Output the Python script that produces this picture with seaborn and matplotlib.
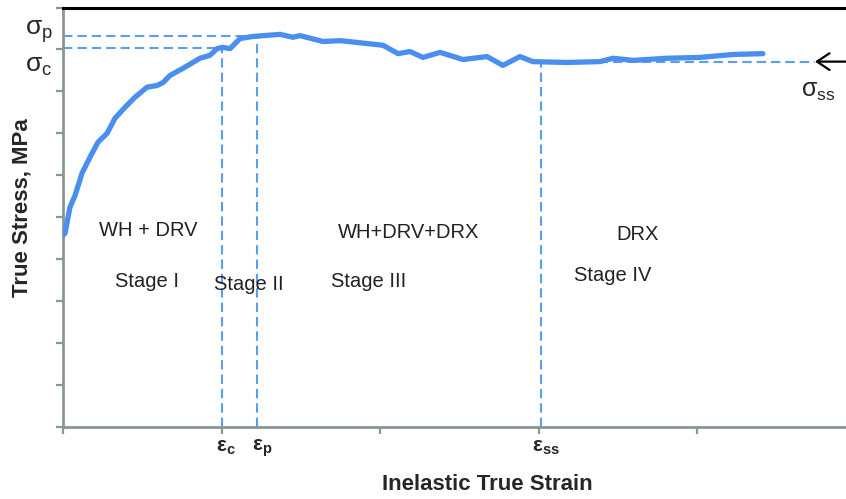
import matplotlib
matplotlib.use("Agg")
import matplotlib.pyplot as plt
import numpy as np
import pandas as pd
import seaborn as sns

# Flow curve (strain in tick units, stress in tick units)
strain = [0.0, 0.013, 0.044, 0.076, 0.120, 0.170, 0.221, 0.278, 0.328, 0.391,
          0.454, 0.530, 0.593, 0.631, 0.675, 0.757, 0.864, 0.927, 0.972, 1.009,
          1.054, 1.117, 1.199, 1.369, 1.451, 1.495, 1.640, 1.748, 2.019, 2.114,
          2.189, 2.271, 2.379, 2.524, 2.675, 2.776, 2.883, 2.965, 3.180, 3.388,
          3.470, 3.596, 3.811, 4.019, 4.227, 4.416]
stress = [4.57, 4.62, 5.24, 5.52, 6.05, 6.43, 6.79, 7.00, 7.36, 7.62,
          7.86, 8.10, 8.14, 8.21, 8.38, 8.55, 8.79, 8.86, 9.02, 9.05,
          9.02, 9.26, 9.31, 9.36, 9.29, 9.33, 9.19, 9.21, 9.10, 8.90,
          8.95, 8.81, 8.93, 8.76, 8.83, 8.62, 8.83, 8.71, 8.69, 8.71,
          8.79, 8.74, 8.79, 8.81, 8.88, 8.90]

# Characteristic points
eps_c, eps_p, eps_ss = 1.0, 1.224, 3.016
sig_c, sig_p, sig_ss = 9.03, 9.33, 8.71

stage_texts = ["WH + DRV", "Stage I", "Stage II", "Stage III",
               "WH+DRV+DRX", "DRX", "Stage IV"]
stage_x = [0.536, 0.533, 1.172, 1.93, 2.183, 3.628, 3.47]
stage_y = [4.69, 3.48, 3.40, 3.48, 4.64, 4.60, 3.62]

sns.set_style("white")
plt.rcParams["font.family"] = ["Liberation Sans", "DejaVu Sans"]
plt.rcParams["mathtext.fontset"] = "custom"
plt.rcParams["mathtext.rm"] = "Liberation Sans"
plt.rcParams["mathtext.it"] = "Liberation Sans"
plt.rcParams["mathtext.bf"] = "Liberation Sans:bold"

W, H = 846, 499
fig = plt.figure(figsize=(W / 100, H / 100), dpi=100)
x0, x1, yb, yt = 63, 846, 427, 7.5
ax = fig.add_axes([x0 / W, 1 - yb / H, (x1 - x0) / W, (yb - yt) / H])

ux = 158.5  # pixels per strain unit
ax.set_xlim(0, (x1 - x0) / ux)
ax.set_ylim(0, 10)

curve_color = "#4A8EEE"
dash_color = "#5C9DF2"

df = pd.DataFrame({"strain": strain, "stress": stress})
sns.lineplot(data=df, x="strain", y="stress", ax=ax, color=curve_color,
             lw=3.8, estimator=None, sort=False, solid_capstyle="round",
             zorder=3)

dkw = dict(color=dash_color, lw=1.5, dashes=(4.5, 2.4), zorder=2)
ax.plot([0, eps_p], [sig_p, sig_p], **dkw)
ax.plot([0, eps_c], [sig_c, sig_c], **dkw)
ax.plot([eps_c, eps_c], [0, sig_c], **dkw)
ax.plot([eps_p, eps_p], [0, sig_p], **dkw)
ax.plot([eps_ss, eps_ss], [0, sig_ss], **dkw)
arrow_tip = (815 - x0) / ux
ax.plot([eps_ss, arrow_tip], [sig_ss, sig_ss], **dkw)

# Arrow pointing at the steady-state stress
ax.annotate("", xy=(arrow_tip, sig_ss), xytext=((x1 - x0) / ux + 0.05, sig_ss),
            arrowprops=dict(arrowstyle="->,head_length=0.9,head_width=0.6",
                            color="black", lw=1.6, shrinkA=0, shrinkB=0),
            annotation_clip=False)
ax.text(4.765, 8.02, r"$σ_{ss}$", fontsize=18, ha="center", va="center")

# Axis styling
ax.set_xticks(np.arange(0, 5))
ax.set_yticks(np.arange(0, 11))
ax.set_xticklabels([])
ax.set_yticklabels([])
ax.set_xlabel("")
ax.set_ylabel("")
axis_grey = "#8A9693"
for side in ["left", "bottom"]:
    ax.spines[side].set_color(axis_grey)
    ax.spines[side].set_linewidth(2.0)
ax.spines["right"].set_visible(False)
ax.spines["top"].set_color("black")
ax.spines["top"].set_linewidth(2.2)
ax.tick_params(axis="both", which="major", direction="out", length=5,
               width=1.6, color=axis_grey, bottom=True, left=True,
               top=False, right=False)

# Labels for critical, peak and steady-state values
ytr = ax.get_yaxis_transform()
ax.text(-0.031, 9.42, r"$σ_p$", transform=ytr, fontsize=19, ha="center",
        va="center")
ax.text(-0.031, 8.6, r"$σ_c$", transform=ytr, fontsize=19, ha="center",
        va="center")
xtr = ax.get_xaxis_transform()
for xv, lab in [(eps_c, r"$\mathbf{ε_c}$"), (eps_p, r"$\mathbf{ε_p}$"),
                (eps_ss, r"$\mathbf{ε_{ss}}$")]:
    ax.text(xv + 0.03, -0.05, lab, transform=xtr, fontsize=15, ha="center",
            va="center")

for t, xv, yv in zip(stage_texts, stage_x, stage_y):
    ax.text(xv, yv, t, fontsize=14.5, ha="center", va="center", color="#222222")

fig.text(22 / W, 1 - 208 / H, "True Stress, MPa", rotation=90, ha="center",
         va="center", fontsize=16, fontweight="bold")
fig.text(487 / W, 1 - 485 / H, "Inelastic True Strain", ha="center",
         va="center", fontsize=16, fontweight="bold")

fig.savefig("out.png", dpi=100)
